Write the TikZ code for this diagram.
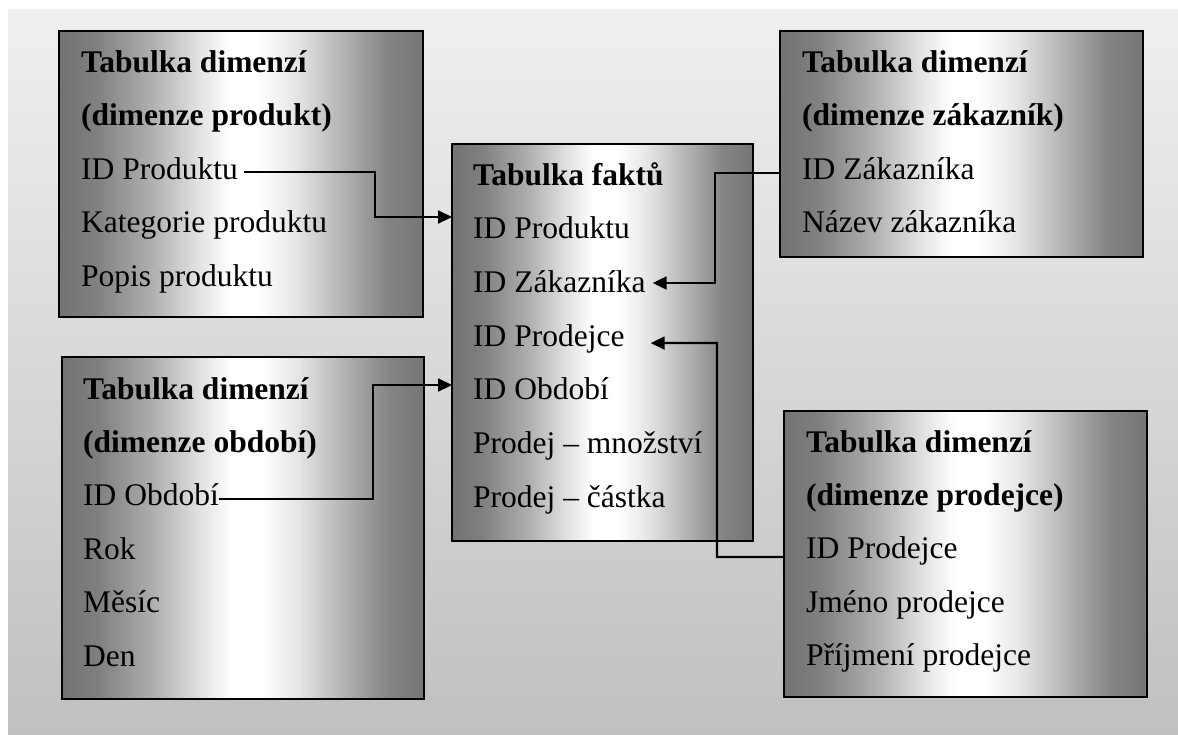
\documentclass[tikz,border=0pt]{standalone}
\usepackage{fontspec}
\setmainfont{Liberation Serif}
\usetikzlibrary{arrows.meta,calc}

% metallic fill of the table boxes: dark edges, bright band in the middle
% (the box spans the stops 25bp to 75bp)
\pgfdeclarehorizontalshading{tableshade}{100bp}{%
  rgb(0bp)=(.45,.45,.45);
  rgb(25bp)=(.45,.45,.45);
  rgb(30bp)=(.50,.50,.50);
  rgb(37.5bp)=(.68,.68,.68);
  rgb(44bp)=(.88,.88,.88);
  rgb(48.5bp)=(1,1,1);
  rgb(52.5bp)=(1,1,1);
  rgb(57.5bp)=(.90,.90,.90);
  rgb(64bp)=(.70,.70,.70);
  rgb(70bp)=(.52,.52,.52);
  rgb(75bp)=(.46,.46,.46);
  rgb(100bp)=(.46,.46,.46)}

\definecolor{bgtop}{HTML}{F0F0F0}
\definecolor{bgbottom}{HTML}{C0C0C0}

\newcommand\rowfont{\fontsize{31.5}{38}\selectfont}

\tikzset{
  tablebox/.style={draw=black, line width=2.2pt, shading=tableshade,
    inner sep=0pt, outer sep=0pt, anchor=north west},
  rowtext/.style={anchor=base west, inner sep=0pt, font=\rowfont},
  headtext/.style={anchor=base west, inner sep=0pt, font=\rowfont\bfseries},
  link/.style={line width=2.2pt, line join=miter,
    -{Triangle[length=14pt,width=13pt]}},
}

\begin{document}
\begin{tikzpicture}[x=1pt,y=-1pt]
\useasboundingbox (0,0) rectangle (1178,734);
\fill[top color=bgtop, bottom color=bgbottom] (8,9) rectangle (1178,734);

% product dimension
\node[tablebox, minimum width=364pt, minimum height=286pt] (prod) at (59,31) {};
\node[headtext] (p1) at (81,72) {Tabulka dimenzí};
\node[headtext] (p2) at (81,125.5) {(dimenze produkt)};
\node[rowtext]  (pid) at (81,179.5) {ID Produktu};
\node[rowtext]  (p4) at (81,232.5) {Kategorie produktu};
\node[rowtext]  (p5) at (81,286) {Popis produktu};

% customer dimension
\node[tablebox, minimum width=363pt, minimum height=226pt] (cust) at (780,31) {};
\node[headtext] (c1) at (802,72) {Tabulka dimenzí};
\node[headtext] (c2) at (802,125.5) {(dimenze zákazník)};
\node[rowtext]  (cid) at (802,179.5) {ID Zákazníka};
\node[rowtext]  (c4) at (802,232.5) {Název zákazníka};

% fact table
\node[tablebox, minimum width=301pt, minimum height=397pt] (fact) at (452,144) {};
\node[headtext] (f1) at (473,185) {Tabulka faktů};
\node[rowtext]  (fp) at (473,238.7) {ID Produktu};
\node[rowtext]  (fz) at (473,292.4) {ID Zákazníka};
\node[rowtext]  (fs) at (473,346.1) {ID Prodejce};
\node[rowtext]  (fo) at (473,399.8) {ID Období};
\node[rowtext]  (f6) at (473,453.5) {Prodej – množství};
\node[rowtext]  (f7) at (473,507.2) {Prodej – částka};

% period dimension
\node[tablebox, minimum width=362pt, minimum height=342pt] (period) at (62,357) {};
\node[headtext] (o1) at (83,399) {Tabulka dimenzí};
\node[headtext] (o2) at (83,452.4) {(dimenze období)};
\node[rowtext]  (oid) at (83,505.8) {ID Období};
\node[rowtext]  (o4) at (83,559.2) {Rok};
\node[rowtext]  (o5) at (83,612.6) {Měsíc};
\node[rowtext]  (o6) at (83,666) {Den};

% salesperson dimension
\node[tablebox, minimum width=363pt, minimum height=286pt] (sales) at (784,411) {};
\node[headtext] (s1) at (806,452) {Tabulka dimenzí};
\node[headtext] (s2) at (806,505.5) {(dimenze prodejce)};
\node[rowtext]  (sid) at (806,558.5) {ID Prodejce};
\node[rowtext]  (s4) at (806,612) {Jméno prodejce};
\node[rowtext]  (s5) at (806,665) {Příjmení prodejce};

% key links
\draw[link] ([xshift=6pt,yshift=7.5pt]pid.base east) -| (375,217)
  -- ([yshift=-73pt]fact.north west);
\draw[link] ([yshift=-142pt]cust.north west) -| (715,283)
  -- ([xshift=7pt,yshift=9.4pt]fz.base east);
\draw[link] ([yshift=-146pt]sales.north west) -| (717,343)
  -- ([xshift=26pt,yshift=3pt]fs.base east);
\draw[link] ([yshift=6.8pt]oid.base east) -| (373,385)
  -- ([yshift=-241pt]fact.north west);
\end{tikzpicture}
\end{document}
